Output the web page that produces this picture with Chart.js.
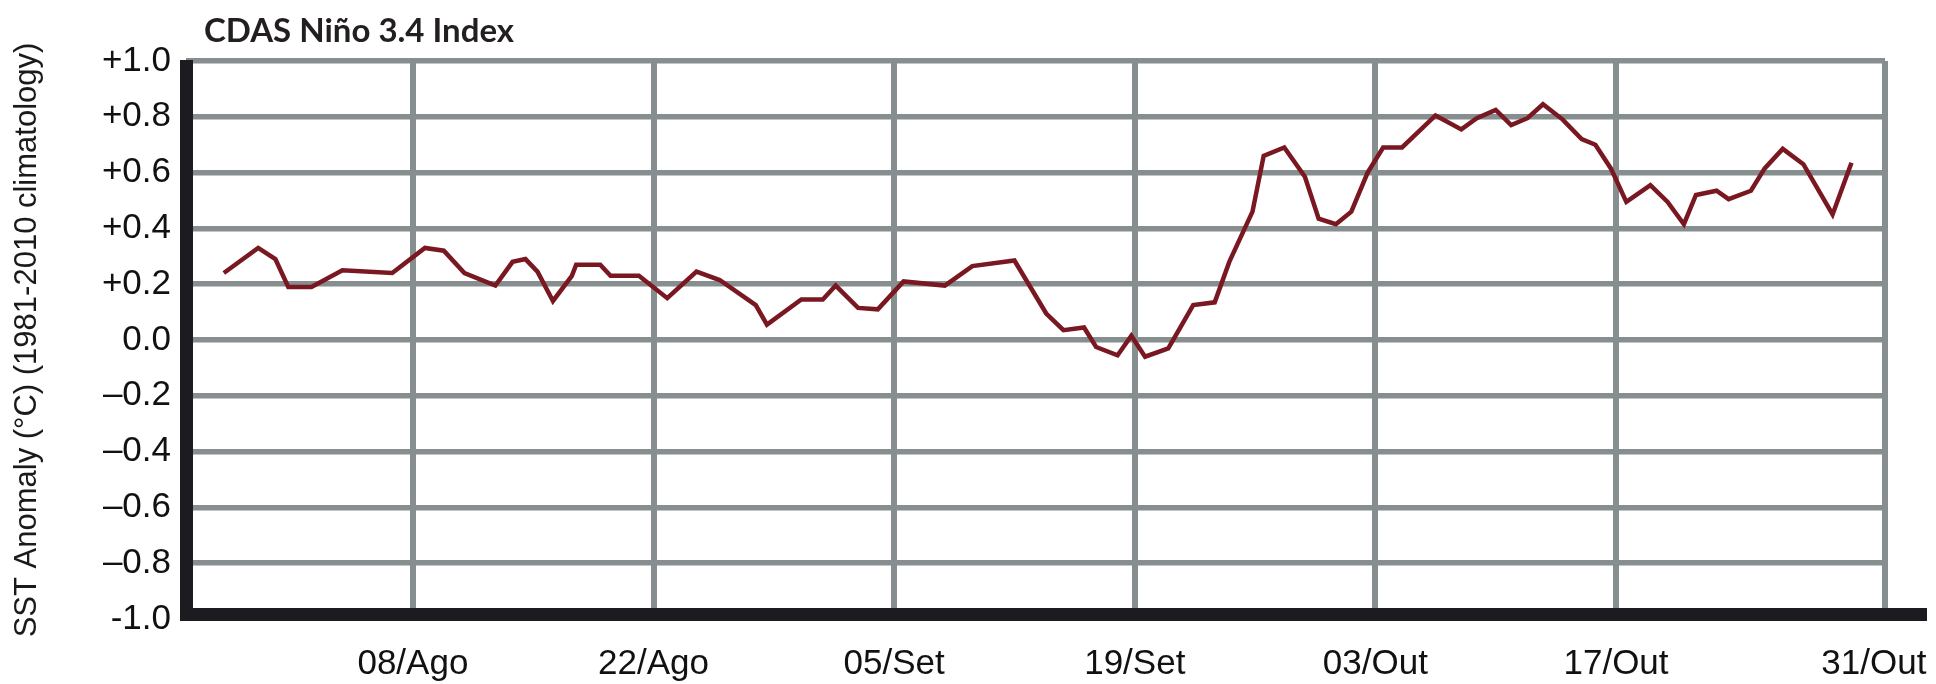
<!DOCTYPE html>
<html>
<head>
<meta charset="utf-8">
<script src="https://cdn.jsdelivr.net/npm/chart.js@4.4.1/dist/chart.umd.min.js"></script>
<style>
  html, body { margin: 0; padding: 0; background: #fff; }
  #wrap { width: 1936px; height: 684px; position: relative; }
</style>
</head>
<body>
<div id="wrap"><canvas id="nino"></canvas></div>
<script>
// days counted from 01/Ago (vertices of the daily index curve)
const dayOffset = [
  -4.0, -2.0, -1.0, -0.25, 1.1, 2.9, 5.8, 7.7, 8.8, 10.0,
  11.8, 12.8, 13.55, 14.25, 15.15, 16.25, 16.5, 17.9, 18.5, 20.15,
  21.8, 23.5, 24.85, 26.95, 27.6, 29.6, 30.85, 31.6, 32.9, 34.05,
  35.55, 37.95, 39.55, 42.0, 43.85, 44.85, 46.05, 46.75, 48.0, 48.8,
  49.6, 50.95, 52.4, 53.65, 54.5, 55.85, 56.5, 57.7, 58.9, 59.7,
  60.7, 61.6, 62.55, 63.45, 64.55, 66.5, 68.0, 68.9, 70.0, 70.9,
  71.85, 72.75, 73.9, 75.0, 75.8, 76.7, 77.6, 79.0, 80.0, 80.95,
  81.65, 82.85, 83.55, 84.85, 85.65, 86.7, 87.9, 89.6, 90.7
];
const anomaly = [
  0.24, 0.33, 0.29, 0.19, 0.19, 0.25, 0.24, 0.33, 0.32, 0.24,
  0.195, 0.28, 0.29, 0.245, 0.14, 0.23, 0.27, 0.27, 0.23, 0.23,
  0.15, 0.245, 0.215, 0.125, 0.055, 0.145, 0.145, 0.195, 0.115, 0.11,
  0.21, 0.195, 0.265, 0.285, 0.095, 0.035, 0.045, -0.025, -0.055, 0.015,
  -0.06, -0.03, 0.125, 0.135, 0.28, 0.46, 0.66, 0.69, 0.585, 0.435,
  0.415, 0.46, 0.6, 0.69, 0.69, 0.805, 0.755, 0.795, 0.825, 0.77,
  0.795, 0.845, 0.79, 0.72, 0.7, 0.615, 0.495, 0.555, 0.495, 0.415,
  0.52, 0.535, 0.505, 0.535, 0.615, 0.685, 0.63, 0.45, 0.635
];

const tickDays = [7, 21, 35, 49, 63, 77, 92];
const tickLabels = ['08/Ago', '22/Ago', '05/Set', '19/Set', '03/Out', '17/Out', '31/Out'];
const yTickLabels = ['-1.0', '\u20130.8', '\u20130.6', '\u20130.4', '\u20130.2', '0.0',
                     '+0.2', '+0.4', '+0.6', '+0.8', '+1.0'];

const titleText = 'CDAS Ni\u00f1o 3.4 Index';
const yTitle = 'SST Anomaly (\u00b0C) (1981-2010 climatology)';
const xMin = -6.2, xMax = 92.65;

const gridGray = '#878e8f';
const axisBlack = '#1c1b1f';
const labelFont = { family: '"Liberation Sans", Arial, sans-serif', size: 35 };

// black L-shaped axes + the chart heading
const frame = {
  id: 'frame',
  beforeDatasetsDraw(chart) {
    const { ctx, chartArea: a } = chart;
    ctx.save();
    ctx.fillStyle = axisBlack;
    ctx.fillRect(a.left - 6, a.top - 1, 13, a.bottom - a.top + 3);
    ctx.fillRect(a.left - 6, a.bottom - 11, 1927 - (a.left - 6), 13);
    ctx.restore();
  },
  afterDraw(chart) {
    const ctx = chart.ctx;
    ctx.save();
    ctx.fillStyle = '#231f20';
    ctx.font = '700 33px Lato, "Open Sans", sans-serif';
    ctx.textBaseline = 'alphabetic';
    ctx.fillText(titleText, 204, 42);
    ctx.restore();
  }
};

new Chart(document.getElementById('nino'), {
  type: 'line',
  data: {
    datasets: [{
      label: 'Ni\u00f1o 3.4',
      data: dayOffset.map((d, i) => ({ x: d, y: anomaly[i] })),
      borderColor: '#7a1822',
      borderWidth: 4.5,
      pointRadius: 0,
      tension: 0,
      fill: false
    }]
  },
  options: {
    responsive: true,
    maintainAspectRatio: false,
    animation: false,
    events: [],
    layout: { padding: { top: 61, right: 51, bottom: 0, left: 0 } },
    plugins: {
      legend: { display: false },
      tooltip: { enabled: false },
      title: { display: false }
    },
    scales: {
      x: {
        type: 'linear',
        min: xMin,
        max: xMax,
        afterBuildTicks: s => {
          s.ticks = tickDays.map(v => ({ value: v })).concat([{ value: xMax }]);
        },
        afterFit: s => { s.height = 65; },
        border: { display: false },
        grid: {
          drawTicks: false,
          lineWidth: 6,
          color: c => (c.index === 6 ? 'rgba(0,0,0,0)' : gridGray)
        },
        ticks: {
          autoSkip: false,
          maxRotation: 0,
          minRotation: 0,
          padding: 24,
          color: '#111',
          font: labelFont,
          callback: (v, i) => tickLabels[i] || ''
        }
      },
      y: {
        min: -1,
        max: 1,
        afterFit: s => { s.width = 186; },
        border: { display: false },
        grid: {
          drawTicks: false,
          lineWidth: 5.5,
          color: c => (c.index === 0 ? 'rgba(0,0,0,0)' : gridGray)
        },
        ticks: {
          stepSize: 0.2,
          padding: 15,
          color: '#111',
          font: labelFont,
          callback: v => yTickLabels[Math.round((v + 1) * 5)]
        },
        title: {
          display: true,
          text: yTitle,
          color: '#1a1a1a',
          padding: { top: 9, bottom: 0 },
          font: { family: '"Liberation Sans", Arial, sans-serif', size: 31 }
        }
      }
    }
  },
  plugins: [frame]
});
</script>
</body>
</html>
